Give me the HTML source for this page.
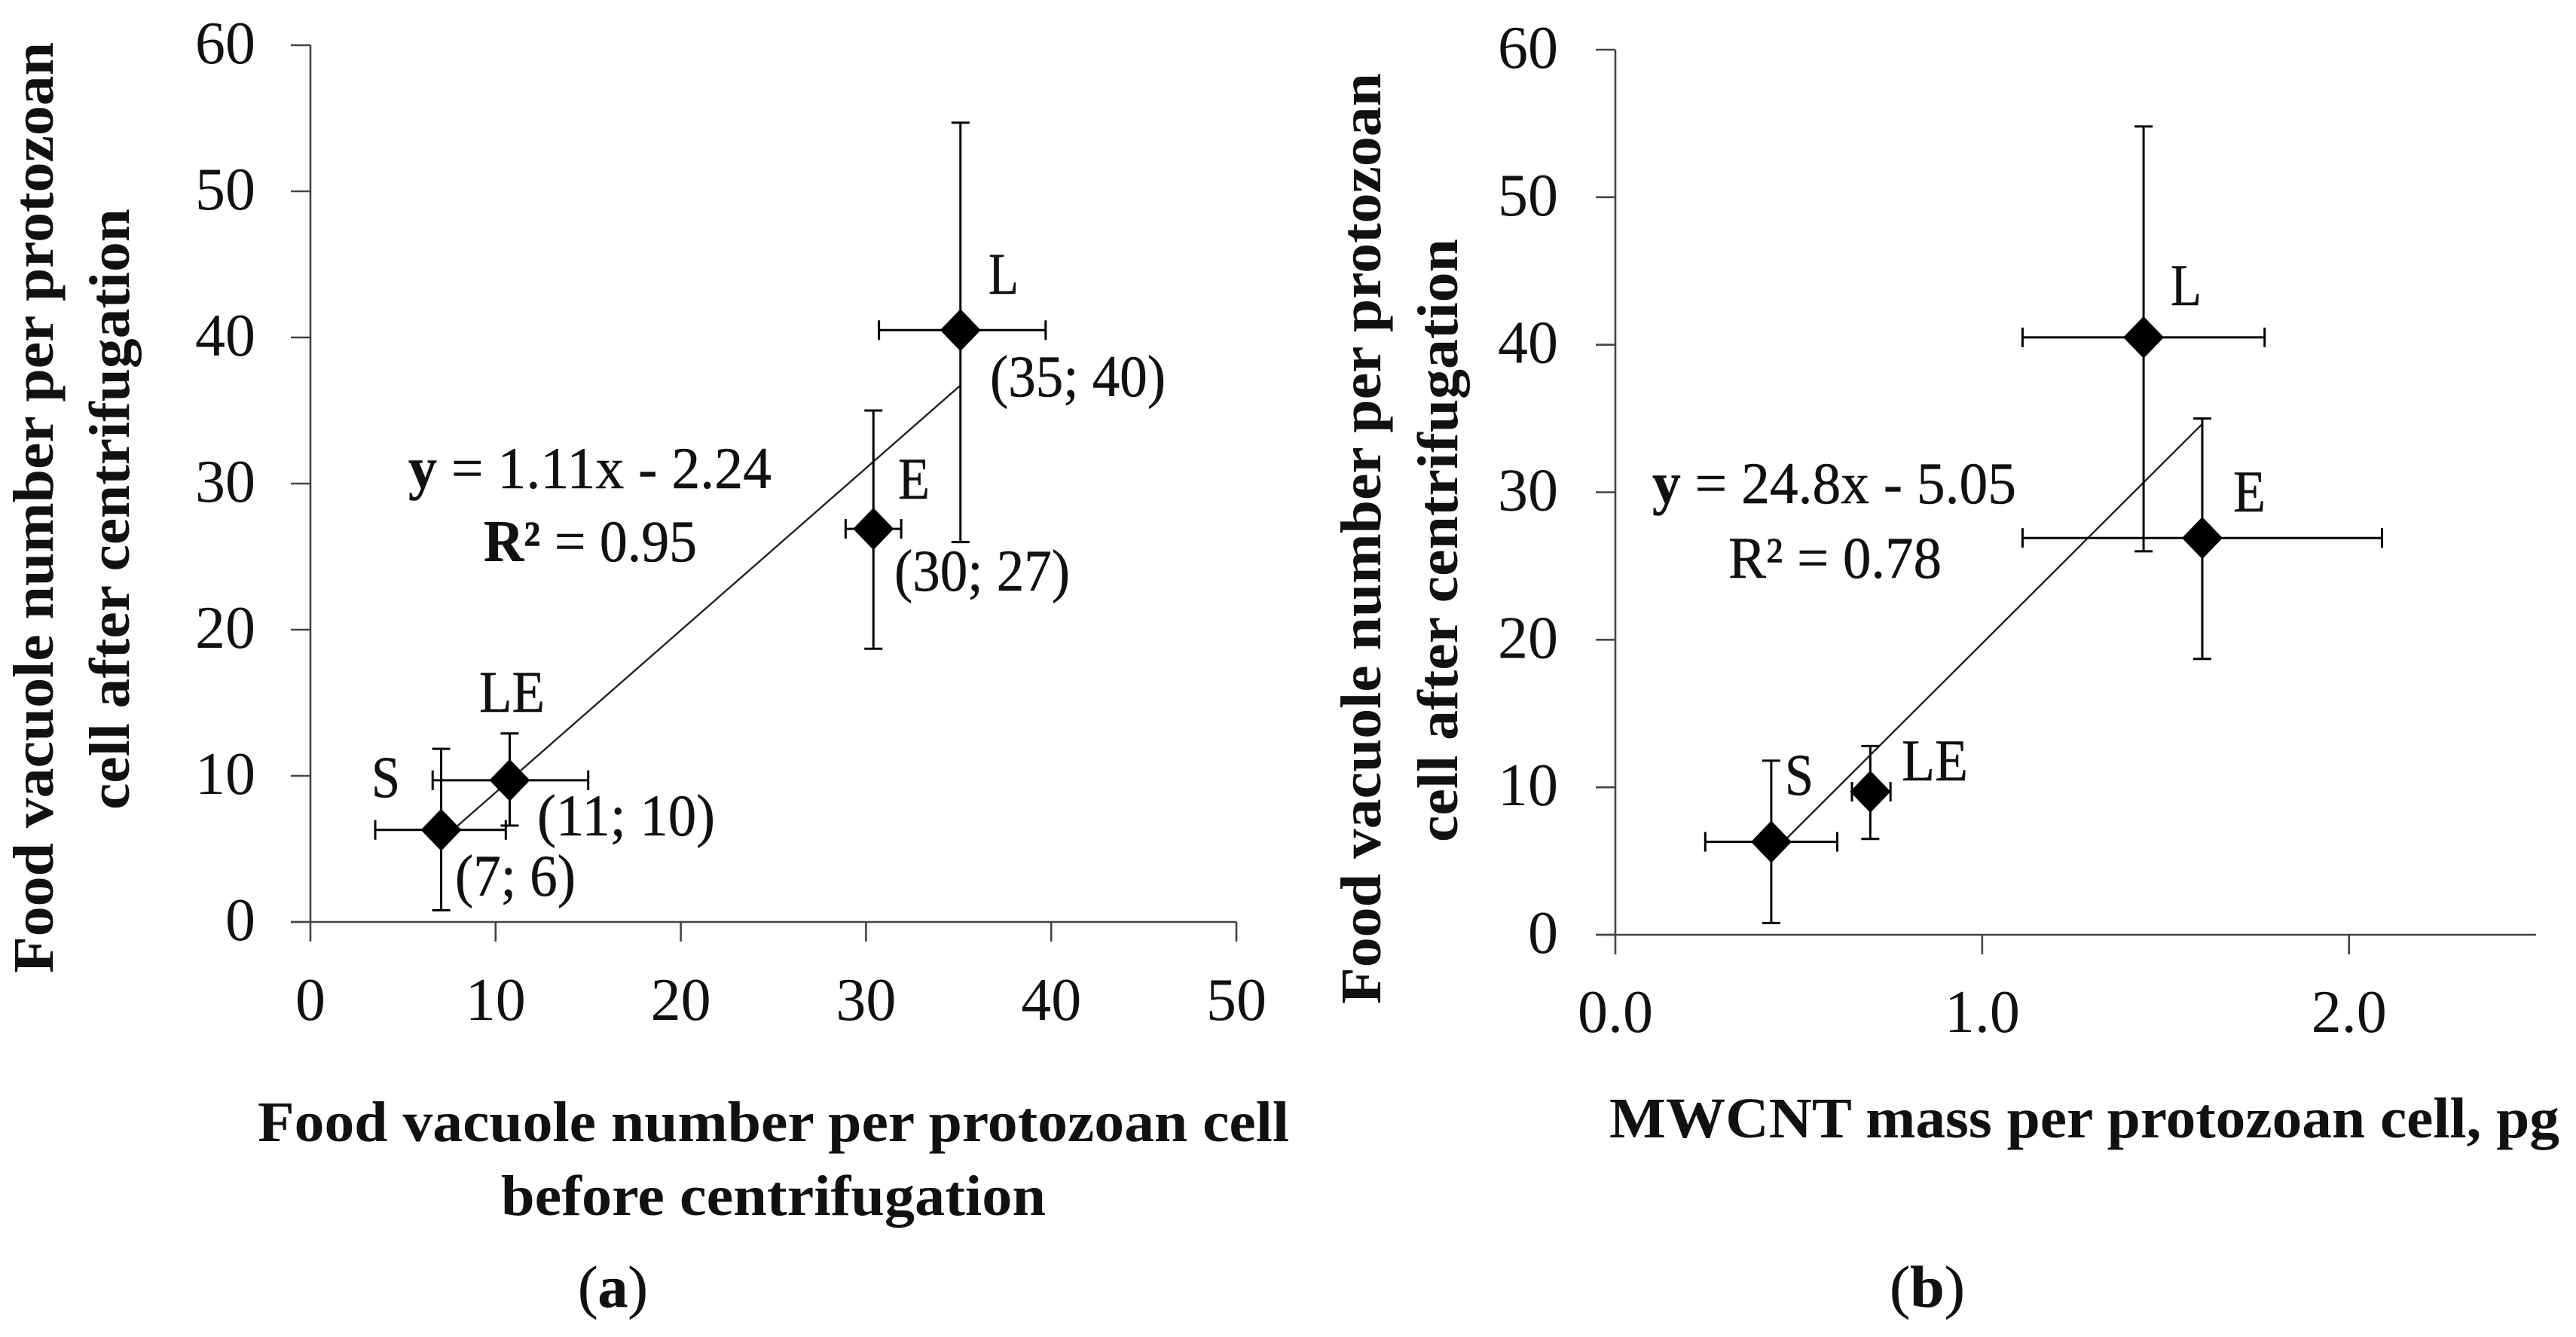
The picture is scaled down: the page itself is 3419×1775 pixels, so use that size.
<!DOCTYPE html>
<html lang="en">
<head>
<meta charset="utf-8">
<title>Food vacuole number charts</title>
<style>
html,body{margin:0;padding:0;background:#fff;width:3419px;height:1775px;overflow:hidden}
svg{display:block}
text{font-family:"Liberation Serif","DejaVu Serif",serif;fill:#111}
.t{font-size:78px;stroke:#111;stroke-width:0.5px}
.b{font-size:76px;font-weight:bold}
</style>
</head>
<body>
<svg id="fig" width="3419" height="1775" viewBox="0 0 3419 1775" xmlns="http://www.w3.org/2000/svg">
  <rect x="0" y="0" width="3419" height="1775" fill="#fff"/>
  <g id="chart-a"></g>
  <g id="chart-b"></g>

  <text class="b" transform="translate(70,1292) rotate(-90)" textLength="1236" lengthAdjust="spacingAndGlyphs">Food vacuole number per protozoan</text>
  <text class="b" transform="translate(171,1075) rotate(-90)" textLength="798" lengthAdjust="spacingAndGlyphs">cell after centrifugation</text>
  <text class="b" x="342" y="1515" textLength="1369" lengthAdjust="spacingAndGlyphs">Food vacuole number per protozoan cell</text>
  <text class="b" x="665" y="1613" textLength="723" lengthAdjust="spacingAndGlyphs">before centrifugation</text>

  <text class="t" x="1312" y="390" textLength="40" lengthAdjust="spacingAndGlyphs">L</text>
  <text class="t" x="1314" y="526" textLength="233" lengthAdjust="spacingAndGlyphs">(35; 40)</text>
  <text class="t" x="1192" y="662" textLength="42" lengthAdjust="spacingAndGlyphs">E</text>
  <text class="t" x="1187" y="784" textLength="233" lengthAdjust="spacingAndGlyphs">(30; 27)</text>
  <text class="t" x="636" y="945" textLength="87" lengthAdjust="spacingAndGlyphs">LE</text>
  <text class="t" x="493" y="1058" textLength="38" lengthAdjust="spacingAndGlyphs">S</text>
  <text class="t" x="713" y="1109" textLength="236" lengthAdjust="spacingAndGlyphs">(11; 10)</text>
  <text class="t" x="604" y="1189" textLength="160" lengthAdjust="spacingAndGlyphs">(7; 6)</text>
  <text class="t" x="542" y="648" textLength="482" lengthAdjust="spacingAndGlyphs"><tspan font-weight="bold">y</tspan> = 1.11x - 2.24</text>
  <text class="t" x="642" y="745" textLength="283" lengthAdjust="spacingAndGlyphs"><tspan font-weight="bold">R²</tspan> = 0.95</text>

  <text class="t" x="767" y="1735" textLength="93" lengthAdjust="spacingAndGlyphs">(<tspan font-weight="bold">a</tspan>)</text>

  <text class="b" transform="translate(1832,1333) rotate(-90)" textLength="1236" lengthAdjust="spacingAndGlyphs">Food vacuole number per protozoan</text>
  <text class="b" transform="translate(1934,1118) rotate(-90)" textLength="801" lengthAdjust="spacingAndGlyphs">cell after centrifugation</text>
  <text class="b" x="2136" y="1510" textLength="1261" lengthAdjust="spacingAndGlyphs">MWCNT mass per protozoan cell, pg</text>

  <text class="t" x="2881" y="405" textLength="41" lengthAdjust="spacingAndGlyphs">L</text>
  <text class="t" x="2964" y="679" textLength="43" lengthAdjust="spacingAndGlyphs">E</text>
  <text class="t" x="2369" y="1055" textLength="38" lengthAdjust="spacingAndGlyphs">S</text>
  <text class="t" x="2524" y="1036" textLength="88" lengthAdjust="spacingAndGlyphs">LE</text>
  <text class="t" x="2193" y="668" textLength="483" lengthAdjust="spacingAndGlyphs"><tspan font-weight="bold">y</tspan> = 24.8x - 5.05</text>
  <text class="t" x="2294" y="767" textLength="283" lengthAdjust="spacingAndGlyphs">R² = 0.78</text>

  <text class="t" x="2508" y="1735" textLength="100" lengthAdjust="spacingAndGlyphs">(<tspan font-weight="bold">b</tspan>)</text>
</svg>
<script>
// Chart (a) data
const aCategories = ['S', 'LE', 'E', 'L'];
const aX = [7.06, 10.76, 30.4, 35.1];
const aY = [6.3, 9.7, 26.9, 40.5];
const aXLow = [3.5, 6.6, 28.9, 30.7];
const aXHigh = [10.55, 15.0, 31.9, 39.7];
const aYLow = [0.8, 6.6, 18.7, 26.0];
const aYHigh = [11.85, 12.9, 35.0, 54.7];
const aXTicks = ['0', '10', '20', '30', '40', '50'];
const aYTicks = ['0', '10', '20', '30', '40', '50', '60'];
const aTrend = [1.11, -2.24];

// Chart (b) data
const bCategories = ['S', 'LE', 'E', 'L'];
const bX = [0.425, 0.695, 1.6, 1.44];
const bY = [6.3, 9.7, 26.9, 40.5];
const bXLow = [0.245, 0.645, 1.11, 1.11];
const bXHigh = [0.605, 0.75, 2.09, 1.77];
const bYLow = [0.8, 6.5, 18.7, 26.0];
const bYHigh = [11.8, 12.8, 35.0, 54.8];
const bXTicks = ['0.0', '1.0', '2.0'];
const bYTicks = ['0', '10', '20', '30', '40', '50', '60'];
const bTrend = [24.8, -5.05];

const NS = 'http://www.w3.org/2000/svg';

function mk(parent, tag, attrs) {
  const el = document.createElementNS(NS, tag);
  for (const k in attrs) el.setAttribute(k, attrs[k]);
  parent.appendChild(el);
  return el;
}

function segment(parent, x1, y1, x2, y2, stroke, width) {
  return mk(parent, 'line', { x1: x1, y1: y1, x2: x2, y2: y2, stroke: stroke, 'stroke-width': width });
}

function drawChart(root, cfg) {
  const sx = v => cfg.x0 + (v / cfg.xMax) * (cfg.x1 - cfg.x0);
  const sy = v => cfg.y0 - (v / cfg.yMax) * (cfg.y0 - cfg.y1);
  const axisColor = '#444';

  const yAxis = segment(root, sx(0), sy(cfg.yMax), sx(0), sy(0), axisColor, 2.6);
  
  
  const xAxis = segment(root, sx(0) - 26, sy(0), sx(cfg.xMax), sy(0), axisColor, 2.6);
  
  

  cfg.yTicks.forEach(function (label) {
    const v = parseFloat(label);
    const tick = segment(root, sx(0) - 26, sy(v), sx(0), sy(v), axisColor, 2.6);
    
    
    const t = mk(root, 'text', { x: cfg.yLabelX, y: sy(v) + 24, 'text-anchor': 'end', 'font-size': 80 });
    t.textContent = label;
    
    
  });

  cfg.xTicks.forEach(function (label) {
    const v = parseFloat(label);
    const tick = segment(root, sx(v), sy(0), sx(v), sy(0) + 26, axisColor, 2.6);
    
    
    const t = mk(root, 'text', { x: sx(v), y: cfg.xLabelY, 'text-anchor': 'middle', 'font-size': 80 });
    t.textContent = label;
    
    
  });

  const xMin = Math.min.apply(null, cfg.xs);
  const xEnd = Math.max.apply(null, cfg.xs);
  const trend = segment(root, sx(xMin), sy(cfg.trend[0] * xMin + cfg.trend[1]), sx(xEnd), sy(cfg.trend[0] * xEnd + cfg.trend[1]), '#222', 2.4);
  
  

  const ink = '#000';
  const capH = 13;
  const capW = 12;
  cfg.categories.forEach(function (name, i) {
    const cx = sx(cfg.xs[i]);
    const cy = sy(cfg.ys[i]);
    const g = mk(root, 'g', {});
    
    
    const v = segment(g, cx, sy(cfg.yLow[i]), cx, sy(cfg.yHigh[i]), ink, 3);
    
    
    const vc1 = segment(g, cx - capW, sy(cfg.yLow[i]), cx + capW, sy(cfg.yLow[i]), ink, 3);
    
    
    const vc2 = segment(g, cx - capW, sy(cfg.yHigh[i]), cx + capW, sy(cfg.yHigh[i]), ink, 3);
    
    
    const h = segment(g, sx(cfg.xLow[i]), cy, sx(cfg.xHigh[i]), cy, ink, 3);
    
    
    const hc1 = segment(g, sx(cfg.xLow[i]), cy - capH, sx(cfg.xLow[i]), cy + capH, ink, 3);
    
    
    const hc2 = segment(g, sx(cfg.xHigh[i]), cy - capH, sx(cfg.xHigh[i]), cy + capH, ink, 3);
    
    
    const m = mk(g, 'polygon', {
      points: [cx - 27, cy, cx, cy - 28, cx + 27, cy, cx, cy + 28].join(' '),
      fill: ink
    });
    
    
  });
}

drawChart(document.getElementById('chart-a'), {
  x0: 412, x1: 1641, y0: 1224, y1: 60, xMax: 50, yMax: 60,
  xs: aX, ys: aY, xLow: aXLow, xHigh: aXHigh, yLow: aYLow, yHigh: aYHigh,
  categories: aCategories, xTicks: aXTicks, yTicks: aYTicks, trend: aTrend,
  yLabelX: 339, xLabelY: 1354
});

drawChart(document.getElementById('chart-b'), {
  x0: 2144, x1: 3366, y0: 1241, y1: 66, xMax: 2.51, yMax: 60,
  xs: bX, ys: bY, xLow: bXLow, xHigh: bXHigh, yLow: bYLow, yHigh: bYHigh,
  categories: bCategories, xTicks: bXTicks, yTicks: bYTicks, trend: bTrend,
  yLabelX: 2068, xLabelY: 1370
});
</script>
</body>
</html>
